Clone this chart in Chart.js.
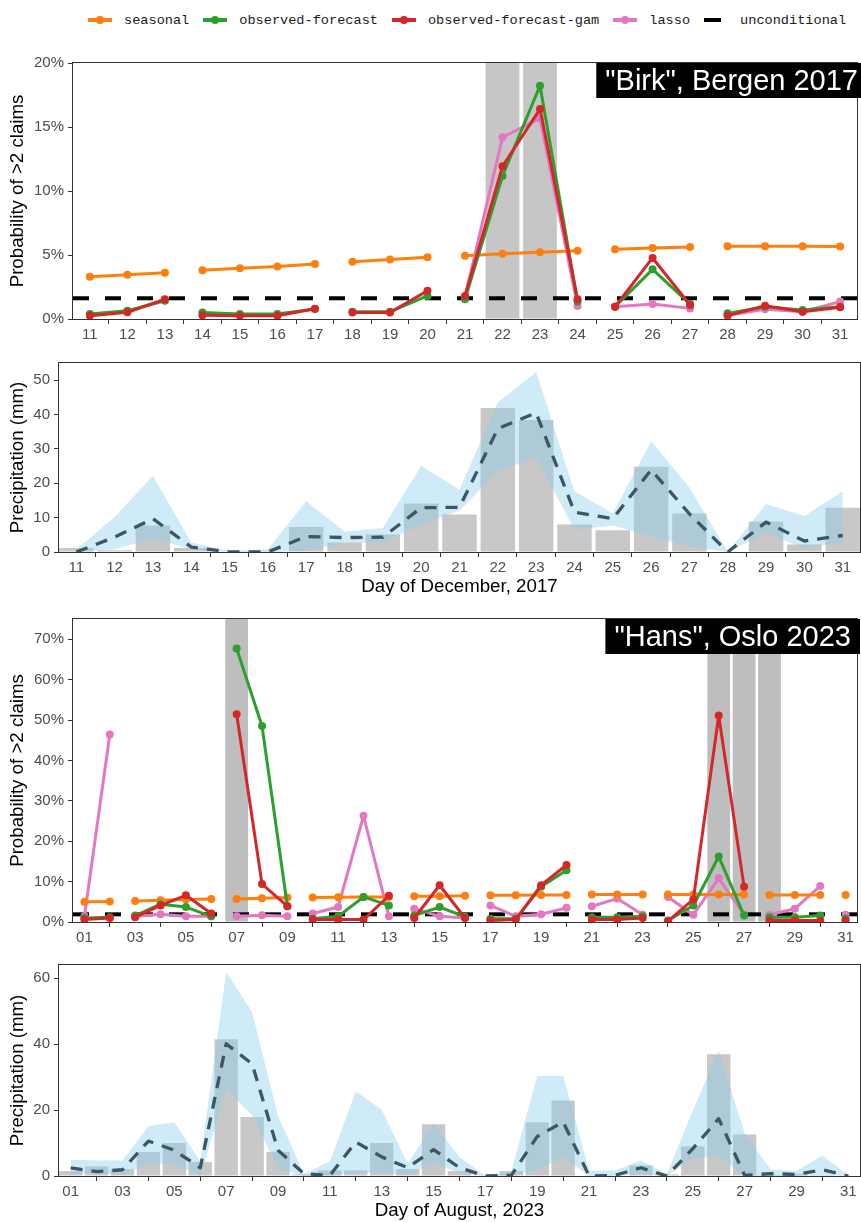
<!DOCTYPE html>
<html lang="en">
<head>
<meta charset="UTF-8">
<title>Probability of >2 claims and precipitation: Birk 2017, Hans 2023</title>
<script src="https://cdn.jsdelivr.net/npm/chart.js@4.4.1/dist/chart.umd.min.js"></script>
<style>
  body { margin: 0; background: #fff; }
  #wrap { position: relative; width: 861px; height: 1222px; overflow: hidden; }
  .legend { position: absolute; left: 88px; top: 10px; height: 20px; display: flex; align-items: center;
            font-family: "Liberation Mono", "DejaVu Sans Mono", monospace; font-size: 13.6px; color: #1a1a1a; white-space: nowrap; }
  .key { position: relative; width: 24px; height: 20px; margin-right: 12px; flex: none; }
  .key .ln { position: absolute; left: 0; right: 0; top: 8.3px; height: 3.5px; }
  .key .pt { position: absolute; left: 8px; top: 6px; width: 8px; height: 8px; border-radius: 50%; }
  .key .dash { position: absolute; left: 0; width: 17px; top: 8.3px; height: 3.5px; background: #000; }
  .item { margin-right: 14px; }
  canvas { position: absolute; left: 0; }
</style>
</head>
<body>
<div id="wrap">
  <div class="legend" id="legend"></div>
  <canvas id="birkProb" width="861" height="300" style="top:50px"></canvas>
  <canvas id="birkRain" width="861" height="255" style="top:350px"></canvas>
  <canvas id="hansProb" width="861" height="347" style="top:605px"></canvas>
  <canvas id="hansRain" width="861" height="270" style="top:952px"></canvas>
</div>
<script>
// ---- series ----
const seriesNames = ['seasonal', 'observed-forecast', 'observed-forecast-gam', 'lasso'];
const seriesColors = ['#ff7f0e', '#2ca02c', '#d62728', '#e377c2'];

// ---- "Birk", Bergen, December 2017 ----
const birkDays = [11, 12, 13, 14, 15, 16, 17, 18, 19, 20, 21, 22, 23, 24, 25, 26, 27, 28, 29, 30, 31];
const birkIssueStarts = [11, 14, 18, 21, 25, 28];
const birkStormDays = [22, 23];
const birkSeasonal = [3.30, 3.46, 3.62, 3.80, 3.96, 4.11, 4.30, 4.48, 4.64, 4.82, 4.95, 5.10, 5.21, 5.34, 5.44, 5.55, 5.62, 5.68, 5.68, 5.68, 5.66];
const birkObserved = [0.39, 0.65, 1.43, 0.50, 0.40, 0.40, 0.78, 0.57, 0.57, 1.80, 1.54, 11.17, 18.23, 1.36, 0.96, 3.88, 1.17, 0.44, 0.96, 0.70, 0.96];
const birkGam = [0.26, 0.52, 1.54, 0.29, 0.25, 0.25, 0.80, 0.50, 0.50, 2.21, 1.80, 11.93, 16.40, 1.54, 0.96, 4.77, 1.09, 0.26, 1.04, 0.57, 0.91];
const birkLasso = [null, null, null, null, null, null, null, null, null, null, 1.75, 14.2, 15.68, 1.02, 0.96, 1.17, 0.83, 0.30, 0.76, 0.57, 1.36];
const birkUnconditional = 1.62;
const birkRain = [1.2, 0.5, 7.7, 1.2, 0, 0, 7.3, 2.8, 5.1, 14.1, 10.9, 41.9, 38.4, 8.0, 6.3, 24.8, 11.2, 0, 8.9, 2.2, 12.9];
const birkFcUpper = [0.8, 10.1, 22.2, 2.8, 0.3, 0.8, 14.8, 6.0, 7.0, 25.1, 18.1, 43.6, 52.4, 17.6, 11.3, 32.2, 18.8, 0, 14.0, 10.5, 17.7];
const birkFcLower = [0, 0.8, 3.9, 0.8, 0, 0, 0.4, 2.7, 2.8, 7.9, 12.0, 23.5, 27.5, 6.5, 7.7, 4.5, 1.6, 0, 5.6, 1.0, 3.0];
const birkFcMedian = [0, 4.3, 9.7, 1.45, 0, 0, 4.5, 4.2, 4.3, 12.9, 13.0, 35.9, 40.5, 11.6, 9.7, 23.9, 11.1, 0, 8.7, 3.2, 4.8];

// ---- "Hans", Oslo, August 2023 ----
const hansDays = [1, 2, 3, 4, 5, 6, 7, 8, 9, 10, 11, 12, 13, 14, 15, 16, 17, 18, 19, 20, 21, 22, 23, 24, 25, 26, 27, 28, 29, 30, 31];
const hansTickDays = [1, 3, 5, 7, 9, 11, 13, 15, 17, 19, 21, 23, 25, 27, 29, 31];
const hansIssueStarts = [1, 3, 7, 10, 14, 17, 21, 24, 28, 31];
const hansStormDays = [7, 26, 27, 28];
const hansSeasonal = [5.0, 5.1, 5.2, 5.4, 5.6, 5.7, 5.7, 5.85, 6.05, 6.05, 6.1, 6.2, 6.2, 6.4, 6.4, 6.5, 6.6, 6.6, 6.7, 6.7, 6.8, 6.8, 6.8, 6.8, 6.8, 6.8, 6.8, 6.7, 6.7, 6.7, 6.7];
const hansObserved = [1.0, 1.2, 1.6, 4.4, 3.7, 1.4, 67.7, 48.5, 3.9, 0.8, 1.4, 6.2, 4.1, 1.6, 3.7, 1.3, 0.8, 0.8, 8.7, 12.8, 1.2, 1.2, 1.4, 0.4, 4.1, 16.2, 1.6, 1.2, 1.2, 1.6, 0.8];
const hansGam = [0.6, 1.0, 1.2, 4.1, 6.6, 2.1, 51.4, 9.4, 3.9, 0.6, 0.6, 0.6, 6.5, 1.0, 9.1, 1.0, 0.4, 0.6, 9.1, 14.1, 0.6, 0.6, 1.0, 0.2, 5.6, 51.1, 8.7, 0.4, 0.4, 0.4, 0.4];
const hansLasso = [1.4, 46.4, 1.4, 1.9, 1.4, 1.4, 1.4, 1.7, 1.4, 2.1, 3.7, 26.3, 1.4, 3.3, 1.4, 1.0, 4.1, 1.4, 1.9, 3.5, 3.9, 5.8, 1.8, 6.2, 1.8, 10.8, 1.8, 1.8, 3.3, 8.9, 1.8];
const hansUnconditional = 1.9;
const hansRain = [1.5, 2.9, 2.1, 7.3, 10.0, 4.2, 41.5, 17.9, 7.3, 0.5, 1.7, 1.7, 10.0, 2.1, 15.7, 1.5, 0.2, 1.5, 16.3, 22.9, 0, 0, 3.2, 0.5, 9.0, 36.9, 12.6, 0.3, 0.7, 0.3, 0];
const hansFcUpper = [4.9, 4.7, 4.7, 15.2, 16.3, 4.5, 61.9, 49.7, 18.2, 0.7, 4.4, 25.7, 20.1, 3.7, 15.9, 5.8, 0, 1.5, 30.4, 30.4, 1.7, 1.7, 4.7, 0.5, 19.9, 38.1, 13.0, 2.0, 1.5, 6.2, 0.2];
const hansFcLower = [0.5, 0.8, 0.4, 3.9, 3.7, 0, 26.2, 18.4, 2.2, 0, 0, 0.9, 0.9, 0.2, 3.9, 1.0, 0, 0, 1.9, 5.6, 0, 0, 0.7, 0, 5.3, 6.0, 0, 0, 0, 0.4, 0];
const hansFcMedian = [2.5, 1.3, 1.9, 10.6, 7.8, 2.5, 40.1, 34.0, 7.8, 0.7, 0.2, 10.3, 5.8, 2.5, 8.0, 2.5, 0, 0.2, 12.0, 16.4, 0, 0.2, 2.5, 0, 8.3, 17.4, 0.2, 0.7, 0.5, 1.9, 0];

// ---- shared look ----
Chart.defaults.font.family = '"Liberation Sans", Arial, sans-serif';
Chart.defaults.color = '#4d4d4d';
const xPad = 0.45;
const tickFont = { size: 15 };
const titleFont = { size: 18.7 };

function pts(days, vals) {
  return days.map((d, i) => ({ x: d, y: vals[i] }));
}

// legend built from the series list
const legend = document.getElementById('legend');
seriesNames.forEach((name, i) => {
  legend.insertAdjacentHTML('beforeend',
    `<span class="key"><i class="ln" style="background:${seriesColors[i]}"></i><i class="pt" style="background:${seriesColors[i]}"></i></span><span class="item">${name}</span>`);
});
legend.insertAdjacentHTML('beforeend', '<span class="key"><i class="dash"></i></span><span>unconditional</span>');

const framePlugin = {
  id: 'frame',
  afterDatasetsDraw(chart) {
    const { ctx, chartArea: a } = chart;
    ctx.save();
    ctx.strokeStyle = '#333333';
    ctx.lineWidth = 1;
    ctx.strokeRect(a.left - 0.5, a.top - 0.5, a.right - a.left + 1, a.bottom - a.top + 1);
    ctx.restore();
  }
};

const labelPlugin = {
  id: 'panelLabel',
  afterDraw(chart, args, opts) {
    if (!opts.text) return;
    const { ctx, chartArea } = chart;
    ctx.save();
    ctx.font = '29px "Liberation Sans", Arial, sans-serif';
    const w = ctx.measureText(opts.text).width + 18;
    const left = chartArea.right + opts.overhang - w;
    ctx.fillStyle = '#000';
    ctx.fillRect(left, chartArea.top, w, 35);
    ctx.fillStyle = '#fff';
    ctx.textBaseline = 'middle';
    ctx.fillText(opts.text, left + 9, chartArea.top + 18.5);
    ctx.restore();
  }
};

function xScale(days, tickDays, fmt, height, title, titlePad) {
  return {
    type: 'linear', min: days[0] - xPad, max: days[days.length - 1] + xPad, offset: false,
    afterBuildTicks: ax => { ax.ticks = tickDays.map(v => ({ value: v })); },
    afterFit: ax => { ax.height = height; },
    grid: { drawOnChartArea: false, drawTicks: true, tickLength: 5, color: '#333333' },
    border: { display: false },
    ticks: { font: tickFont, padding: 2, maxRotation: 0, autoSkip: false, callback: v => fmt(v) },
    title: { display: !!title, text: title, color: '#000', font: titleFont, padding: { top: 0, bottom: titlePad } }
  };
}

function yScale(max, step, fmt, width, title) {
  return {
    min: 0, max: max,
    afterFit: ax => { ax.width = width; },
    grid: { drawOnChartArea: false, drawTicks: true, tickLength: 5, color: '#333333' },
    border: { display: false },
    ticks: { stepSize: step, includeBounds: false, font: tickFont, padding: 4, callback: v => fmt(v) },
    title: { display: true, text: title, color: '#000', font: titleFont, padding: { top: 7, bottom: 0 } }
  };
}

function probChart(id, o) {
  const xMin = o.days[0] - xPad, xMax = o.days[o.days.length - 1] + xPad;
  // forecasts are issued in blocks: no line joins one block to the next
  const breakAt = ctx => o.starts.includes(o.days[ctx.p1DataIndex]) ? 'transparent' : undefined;
  const series = [o.seasonal, o.observed, o.gam, o.lasso];
  const drawOrder = [3, 2, 1, 4];
  const datasets = series.map((vals, i) => ({
    type: 'line', label: seriesNames[i], data: pts(o.days, vals),
    borderColor: seriesColors[i], backgroundColor: seriesColors[i],
    borderWidth: 3, borderJoinStyle: 'round', borderCapStyle: 'round',
    pointRadius: 4, pointBorderWidth: 0, pointBackgroundColor: seriesColors[i],
    order: drawOrder[i], segment: { borderColor: breakAt }
  }));
  datasets.push({
    type: 'line', label: 'unconditional',
    data: [{ x: xMin, y: o.uncond }, { x: xMax, y: o.uncond }],
    borderColor: '#000', borderWidth: 4, borderDash: [16, 16], pointRadius: 0, order: 5
  });
  datasets.push({
    type: 'bar', label: 'storm', data: o.storm.map(d => ({ x: d, y: o.yMax })),
    backgroundColor: o.shade, barPercentage: 0.9, categoryPercentage: 1, grouped: false, order: 6
  });
  return new Chart(document.getElementById(id), {
    type: 'line',
    data: { datasets },
    options: {
      responsive: false, animation: false, events: [],
      layout: { padding: { top: o.padTop, right: 1, left: 0, bottom: 0 } },
      plugins: { legend: { display: false }, tooltip: { enabled: false }, panelLabel: o.label },
      scales: {
        x: xScale(o.days, o.ticks, o.fmt, o.xHeight, '', 0),
        y: yScale(o.yMax, o.yStep, v => v + '%', 73, 'Probability of >2 claims')
      }
    },
    plugins: [framePlugin, labelPlugin]
  });
}

function rainChart(id, o) {
  return new Chart(document.getElementById(id), {
    type: 'line',
    data: {
      datasets: [
        { type: 'line', label: 'forecast median', data: pts(o.days, o.median), borderColor: '#3c5663',
          borderWidth: 3.3, borderDash: [12, 9], borderJoinStyle: 'round', pointRadius: 0, fill: false, order: 0 },
        { type: 'line', label: 'forecast upper', data: pts(o.days, o.upper), borderColor: 'transparent',
          borderWidth: 0, pointRadius: 0, backgroundColor: 'rgba(135,206,235,0.4)', fill: '+1', order: 1 },
        { type: 'line', label: 'forecast lower', data: pts(o.days, o.lower), borderColor: 'transparent',
          borderWidth: 0, pointRadius: 0, fill: false, order: 2 },
        { type: 'bar', label: 'observed', data: pts(o.days, o.rain), backgroundColor: '#c8c8c8',
          barPercentage: 0.9, categoryPercentage: 1, grouped: false, order: 3 }
      ]
    },
    options: {
      responsive: false, animation: false, events: [],
      layout: { padding: { top: o.padTop, right: 1, left: 0, bottom: 0 } },
      plugins: { legend: { display: false }, tooltip: { enabled: false } },
      scales: {
        x: xScale(o.days, o.ticks, o.fmt, o.xHeight, o.title, o.titlePad),
        y: yScale(o.yMax, o.yStep, v => v, 59, 'Precipitation (mm)')
      }
    },
    plugins: [framePlugin]
  });
}

const plainDay = v => String(v);
const paddedDay = v => String(v).padStart(2, '0');

probChart('birkProb', {
  days: birkDays, ticks: birkDays, fmt: plainDay, starts: birkIssueStarts, storm: birkStormDays,
  seasonal: birkSeasonal, observed: birkObserved, gam: birkGam, lasso: birkLasso, uncond: birkUnconditional,
  yMax: 20, yStep: 5, shade: '#c6c6c6', padTop: 13, xHeight: 31,
  label: { text: '"Birk", Bergen 2017', overhang: 10 }
});
rainChart('birkRain', {
  days: birkDays, ticks: birkDays, fmt: plainDay, rain: birkRain,
  upper: birkFcUpper, lower: birkFcLower, median: birkFcMedian,
  yMax: 55, yStep: 10, padTop: 12, xHeight: 53, title: 'Day of December, 2017', titlePad: 7
});
probChart('hansProb', {
  days: hansDays, ticks: hansTickDays, fmt: paddedDay, starts: hansIssueStarts, storm: hansStormDays,
  seasonal: hansSeasonal, observed: hansObserved, gam: hansGam, lasso: hansLasso, uncond: hansUnconditional,
  yMax: 75, yStep: 10, shade: '#bebebe', padTop: 14, xHeight: 30,
  label: { text: '"Hans", Oslo 2023', overhang: 3 }
});
rainChart('hansRain', {
  days: hansDays, ticks: hansTickDays, fmt: paddedDay, rain: hansRain,
  upper: hansFcUpper, lower: hansFcLower, median: hansFcMedian,
  yMax: 64, yStep: 20, padTop: 12, xHeight: 46, title: 'Day of August, 2023', titlePad: 0
});
</script>
</body>
</html>
